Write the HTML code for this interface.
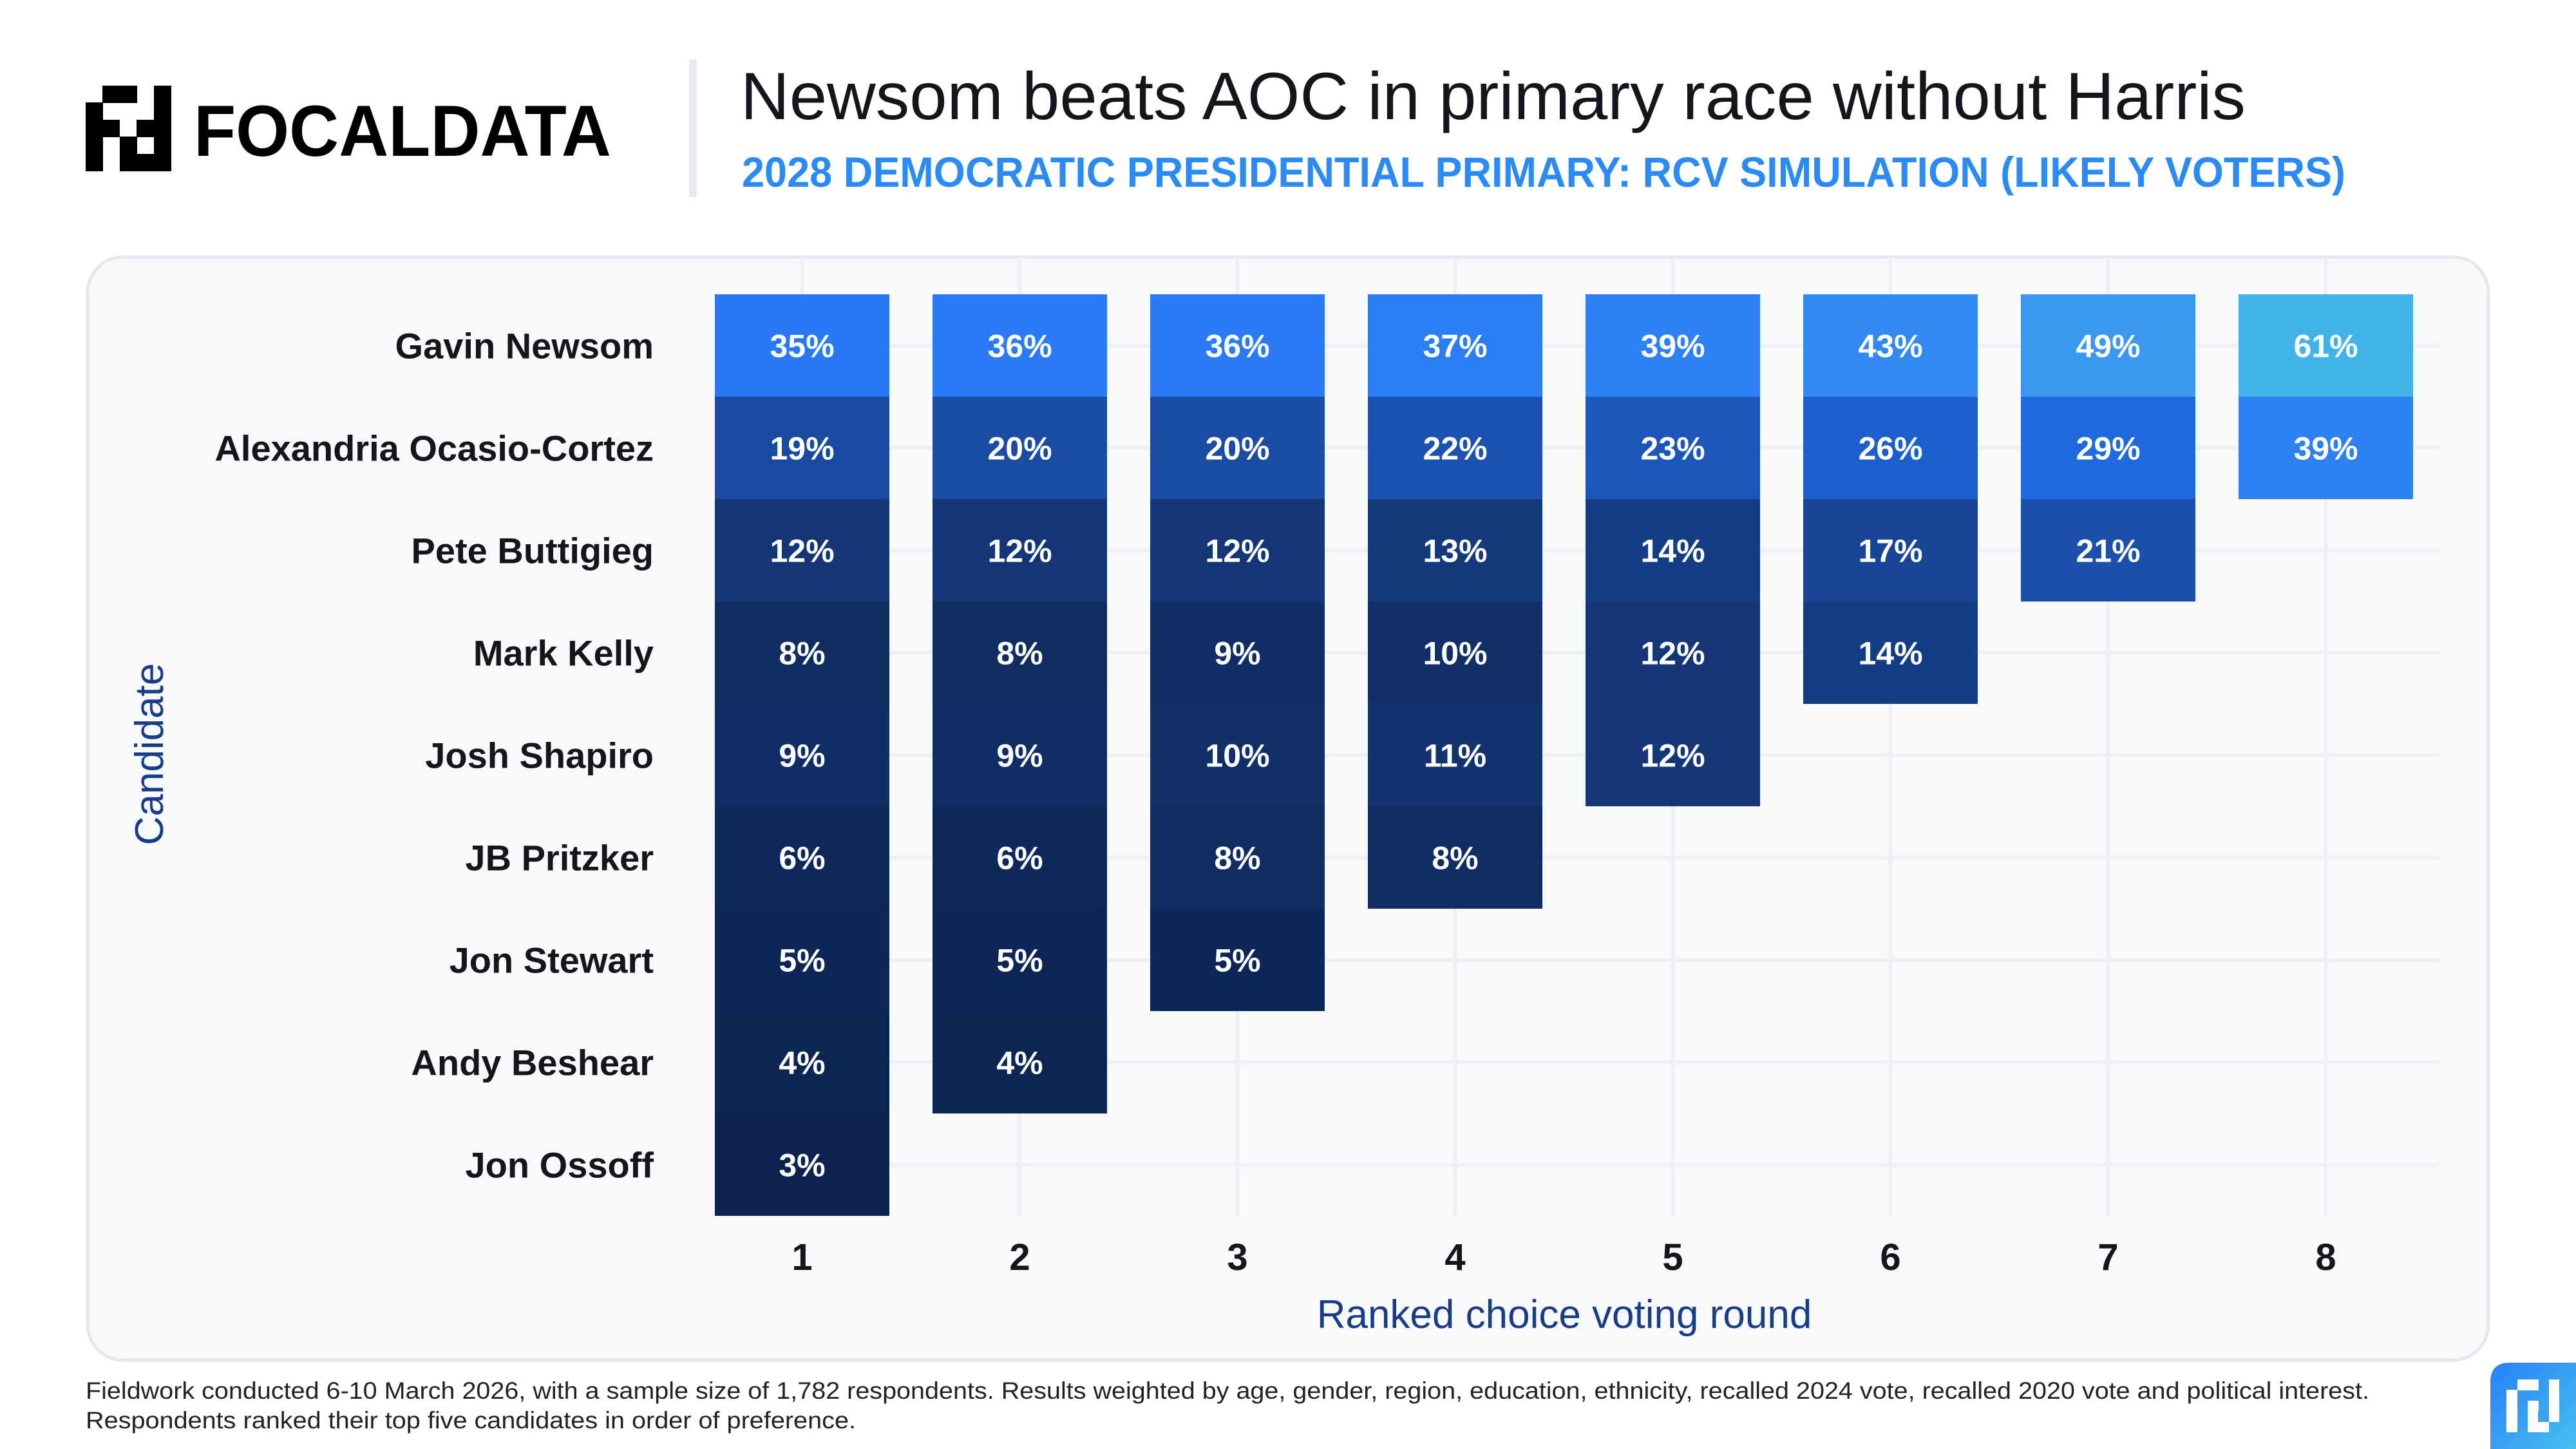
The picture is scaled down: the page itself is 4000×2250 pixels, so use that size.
<!DOCTYPE html>
<html><head><meta charset="utf-8"><style>
html,body{margin:0;padding:0;background:#fff;}
svg{display:block;font-family:"Liberation Sans",sans-serif;}
</style></head><body>
<svg id="chart" width="4000" height="2250" viewBox="0 0 4000 2250" xmlns="http://www.w3.org/2000/svg">
  <g>
    <g fill="#000">
      <rect x="159" y="133" width="54" height="27"/>
      <rect x="239" y="133" width="27" height="133"/>
      <rect x="133" y="159" width="27" height="107"/>
      <rect x="159" y="186" width="27" height="27"/>
      <rect x="212" y="186" width="27" height="27"/>
      <rect x="186" y="212" width="27" height="54"/>
      <rect x="212" y="239" width="27" height="27"/>
    </g>
    <text x="301" y="242" font-size="112" font-weight="bold" fill="#000" textLength="648" lengthAdjust="spacingAndGlyphs">FOCALDATA</text>
  </g>
  <rect x="1070" y="92" width="12" height="214" fill="#e8e8ee"/>
  <text x="1150" y="185" font-size="104" fill="#15161c" textLength="2337" lengthAdjust="spacingAndGlyphs">Newsom beats AOC in primary race without Harris</text>
  <text x="1152" y="290" font-size="66" font-weight="bold" fill="#2a8af6" textLength="2490" lengthAdjust="spacingAndGlyphs">2028 DEMOCRATIC PRESIDENTIAL PRIMARY: RCV SIMULATION (LIKELY VOTERS)</text>

  <rect x="136" y="399" width="3728" height="1713" rx="55" fill="#f8f9fb" stroke="#e6e8ee" stroke-width="5"/>
  <g id="grid"></g>
  <g id="cells"></g>
  <g id="ylabels"></g>
  <g id="xlabels"></g>
  <text x="2429" y="2062" font-size="62" fill="#173c8a" text-anchor="middle">Ranked choice voting round</text>
  <text x="0" y="0" font-size="62" fill="#173c8a" text-anchor="middle" transform="translate(253,1171) rotate(-90)">Candidate</text>

  <text x="133" y="2172" font-size="37" fill="#222" textLength="3546" lengthAdjust="spacingAndGlyphs">Fieldwork conducted 6-10 March 2026, with a sample size of 1,782 respondents. Results weighted by age, gender, region, education, ethnicity, recalled 2024 vote, recalled 2020 vote and political interest.</text>
  <text x="133" y="2218" font-size="37" fill="#222" textLength="1196" lengthAdjust="spacingAndGlyphs">Respondents ranked their top five candidates in order of preference.</text>

  <defs><linearGradient id="bg2" x1="0" y1="0" x2="1" y2="1"><stop offset="0" stop-color="#2780f6"/><stop offset="1" stop-color="#48bff0"/></linearGradient></defs>
  <g>
    <path d="M3867 2250 V2146 Q3867 2116 3897 2116 H4000 V2250 Z" fill="url(#bg2)"/>
    <g fill="#fff">
      <rect x="3909" y="2142" width="33" height="17"/>
      <rect x="3958" y="2142" width="16" height="66"/>
      <rect x="3892" y="2158" width="17" height="66"/>
      <rect x="3925" y="2175" width="17" height="17"/>
      <rect x="3925" y="2191" width="33" height="33"/>
    </g>
    <rect x="3941" y="2191" width="17" height="17" fill="#3aa0f2"/>
  </g>
</svg>
<script>
const candidates = ["Gavin Newsom","Alexandria Ocasio-Cortez","Pete Buttigieg","Mark Kelly","Josh Shapiro","JB Pritzker","Jon Stewart","Andy Beshear","Jon Ossoff"];
const rounds = ["1","2","3","4","5","6","7","8"];
const round1 = [35,19,12,8,9,6,5,4,3];
const round2 = [36,20,12,8,9,6,5,4];
const round3 = [36,20,12,9,10,8,5];
const round4 = [37,22,13,10,11,8];
const round5 = [39,23,14,12,12];
const round6 = [43,26,17,14];
const round7 = [49,29,21];
const round8 = [61,39];
const series = [round1,round2,round3,round4,round5,round6,round7,round8];

const NS = "http://www.w3.org/2000/svg";
const colX0 = 1110, colPitch = 338, colW = 271;
const rowY0 = 457, rowH = 159;
function xCenter(i){ return colX0 + colPitch*i + colW/2; }
function yCenter(i){ return rowY0 + rowH*i + rowH/2; }
const stops = [[3,[12,35,80]],[10,[18,47,104]],[14,[21,61,131]],[20,[26,76,164]],[29,[30,105,224]],[35,[41,121,245]],[43,[49,137,242]],[49,[59,152,240]],[61,[65,179,232]]];
function color(v){
  if (v<=stops[0][0]) return `rgb(${stops[0][1]})`;
  for (let k=1;k<stops.length;k++){
    if (v<=stops[k][0]){
      const [a,ca]=stops[k-1],[b,cb]=stops[k]; const t=(v-a)/(b-a);
      return `rgb(${ca.map((c,j)=>Math.round(c+(cb[j]-c)*t)).join(",")})`;
    }
  }
  return `rgb(${stops[stops.length-1][1]})`;
}
function mk(tag, attrs, parent){ const e=document.createElementNS(NS,tag); for(const k in attrs) e.setAttribute(k,attrs[k]); parent.appendChild(e); return e; }

const grid = document.getElementById("grid");
candidates.forEach((c,i)=>{
  const l = mk("line",{x1:colX0,x2:3788,y1:yCenter(i),y2:yCenter(i),stroke:"#eef0f4","stroke-width":6},grid);
  
  
});
rounds.forEach((r,j)=>{
  const l = mk("line",{x1:xCenter(j),x2:xCenter(j),y1:400,y2:rowY0+rowH*candidates.length,stroke:"#eef0f4","stroke-width":6},grid);
  
  
});

const cells = document.getElementById("cells");
series.forEach((vals,j)=>{
  vals.forEach((v,i)=>{
    const r = mk("rect",{x:colX0+colPitch*j,y:rowY0+rowH*i,width:colW,height:rowH,fill:color(v)},cells);
    
    
    const t = mk("text",{x:xCenter(j),y:yCenter(i)+18,"font-size":50,"font-weight":"bold",fill:"#fff","text-anchor":"middle"},cells);
    t.textContent = v+"%";
    
    
  });
});

const yl = document.getElementById("ylabels");
candidates.forEach((c,i)=>{
  const t = mk("text",{x:1015,y:yCenter(i)+20,"font-size":56,"font-weight":"bold",fill:"#15161c","text-anchor":"end"},yl);
  t.textContent = c;
  
  
});
const xl = document.getElementById("xlabels");
rounds.forEach((r,j)=>{
  const t = mk("text",{x:xCenter(j),y:1972,"font-size":58,"font-weight":"bold",fill:"#15161c","text-anchor":"middle"},xl);
  t.textContent = r;
  
  
});
</script>
</body></html>
